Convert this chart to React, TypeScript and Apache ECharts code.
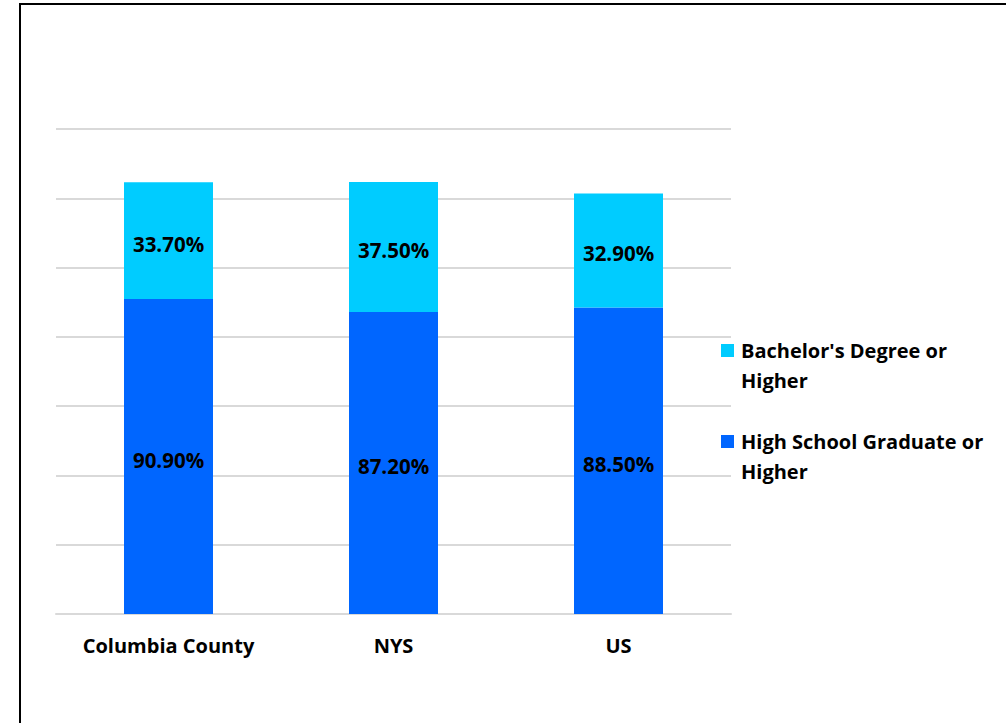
import React, { useEffect, useRef } from "react";
import * as echarts from "echarts";

const categories = ["Columbia County", "NYS", "US"];
const highSchool = [90.9, 87.2, 88.5];
const bachelor = [33.7, 37.5, 32.9];
const seriesNames = ["Bachelor's Degree or Higher", "High School Graduate or Higher"];
const legendLines = [["Bachelor's Degree or", "Higher"], ["High School Graduate or", "Higher"]];
const colors = { bachelor: "#00CCFF", highSchool: "#0066FF" };

const FONT = "'Open Sans', 'Noto Sans', sans-serif";

export default function App() {
  const ref = useRef<HTMLDivElement>(null);

  useEffect(() => {
    if (!ref.current) return;
    const chart = echarts.init(ref.current, undefined, { renderer: "svg" });

    const label = {
      show: true,
      position: "inside",
      offset: [0, 3],
      color: "#000",
      fontFamily: FONT,
      fontWeight: "bold",
      fontSize: 20.5,
      formatter: (p: any) => p.value.toFixed(2) + "%",
    };

    const legendColors = [colors.bachelor, colors.highSchool];
    const legendTops = [344, 435];
    const legendGraphics: any[] = [];
    legendLines.forEach((lines, i) => {
      legendGraphics.push({
        type: "rect",
        shape: { x: 721, y: legendTops[i], width: 13, height: 13 },
        style: { fill: legendColors[i] },
      });
      legendGraphics.push({
        type: "text",
        x: 741,
        y: legendTops[i] - 9,
        style: {
          text: lines.join("\n"),
          fill: "#000",
          font: `bold 20px ${FONT}`,
          lineHeight: 30,
          verticalAlign: "top",
        },
      });
    });

    chart.setOption({
      animation: false,
      backgroundColor: "#fff",
      grid: { left: 56, right: 275, top: 129, bottom: 109 },
      xAxis: {
        type: "category",
        data: categories,
        axisTick: { show: false },
        axisLine: { lineStyle: { color: "#d9d9d9", width: 2 } },
        axisLabel: {
          color: "#000",
          fontFamily: FONT,
          fontWeight: "bold",
          fontSize: 20,
          margin: 21,
        },
      },
      yAxis: {
        type: "value",
        min: 0,
        max: 140,
        interval: 20,
        axisLabel: { show: false },
        axisLine: { show: false },
        axisTick: { show: false },
        splitLine: { lineStyle: { color: "#d9d9d9", width: 2 } },
      },
      series: [
        {
          name: seriesNames[1],
          type: "bar",
          stack: "total",
          data: highSchool,
          barWidth: 89,
          itemStyle: { color: colors.highSchool },
          label,
        },
        {
          name: seriesNames[0],
          type: "bar",
          stack: "total",
          data: bachelor,
          barWidth: 89,
          itemStyle: { color: colors.bachelor },
          label,
        },
      ],
      graphic: [
        {
          type: "rect",
          shape: { x: 20, y: 4, width: 1000, height: 730 },
          style: { fill: "none", stroke: "#000", lineWidth: 2 },
          silent: true,
        },
        ...legendGraphics,
      ],
    });

    return () => chart.dispose();
  }, []);

  return (
    <div
      ref={ref}
      style={{ position: "fixed", left: 0, top: 0, width: 1006, height: 723 }}
    />
  );
}
